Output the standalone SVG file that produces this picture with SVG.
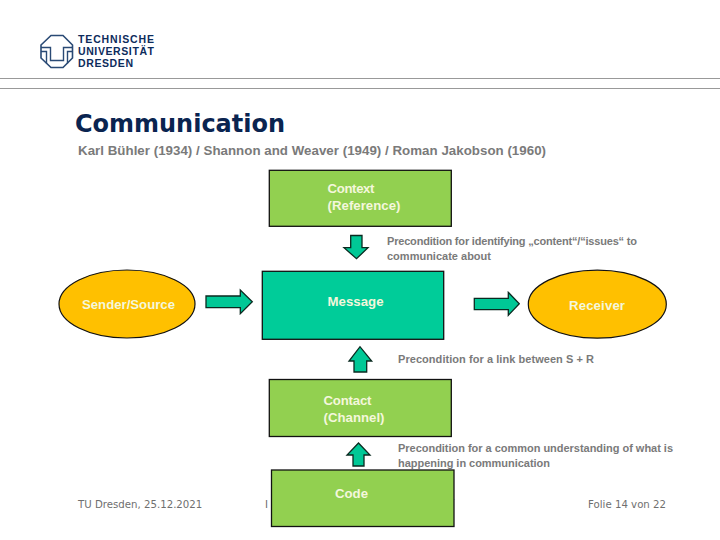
<svg xmlns="http://www.w3.org/2000/svg" width="720" height="540" viewBox="0 0 720 540">
<style>
text{font-family:"Liberation Sans",Arial,sans-serif}
.g{fill:#7a7a7a;font-size:11px;font-weight:bold}
.w{fill:#f4f7dc;font-size:13.2px;font-weight:bold}
.f{fill:#6f6f6f;font-size:10.2px;font-family:"DejaVu Sans",sans-serif}
.l{fill:#0d2c5c;font-size:10.5px;font-weight:bold}
.a{fill:#00c896;stroke:#0a2a20;stroke-width:1.3}
.b{fill:#92d050;stroke:#111;stroke-width:1.3}
.e{fill:#ffc000;stroke:#111;stroke-width:1.2}
.m{fill:none;stroke:#2a4a75}
</style>
<rect width="720" height="540" fill="#fff"/>
<g id="logo">
<path class="m" stroke-width="1.6" d="M51 35.5H63L72.5 45V58L63 67.5H51L41 58V45Z"/>
<path class="m" stroke-width="1.4" d="M41 47.5H50.5V60.5H63.5V47.5H72.5M41 51.5H46.5V63.5M72.5 51.5H67.5V63.5"/>
<text class="l" x="78" y="42.8" textLength="76">TECHNISCHE</text>
<text class="l" x="78" y="55" textLength="76">UNIVERSITÄT</text>
<text class="l" x="78" y="67.2" textLength="55">DRESDEN</text>
</g>
<path d="M0 78.5H720M0 88.5H720" stroke="#999" stroke-width="1"/>
<text x="75" y="132" font-size="24" font-weight="bold" fill="#0a2450" textLength="210" style="font-family:'DejaVu Sans',sans-serif">Communication</text>
<text class="g" x="78" y="155" style="font-size:13.3px" textLength="468">Karl Bühler (1934) / Shannon and Weaver (1949) / Roman Jakobson (1960)</text>
<g id="footer">
<text class="f" x="78" y="508">TU Dresden, 25.12.2021</text>
<text class="f" x="265" y="508">I</text>
<text class="f" x="451" y="502">-</text>
<text class="f" x="588" y="508">Folie 14 von 22</text>
</g>
<g id="connectors">
<path class="a" d="M350.7 235.5H362V247.7H368L356.5 258.7L344 247.7H350.7Z"/>
<path class="a" d="M206 296H240.3V290L252.3 301.8L240.3 313.7V307.7H206Z"/>
<path class="a" d="M474.3 298.3H508.3V292.3L519.3 303.8L508.3 315.3V309.7H474.3Z"/>
<path class="a" d="M354 372V361H349L360 346.7L371.7 361H366.7V372Z"/>
<path class="a" d="M353 466V455H347L358.5 443L370 455H364V466Z"/>
</g>
<g id="context"><rect class="b" x="269.3" y="170.3" width="182" height="56"/><text class="w" x="327.5" y="193" textLength="47">Context</text><text class="w" x="327.5" y="210" textLength="73">(Reference)</text></g>
<g id="sender"><ellipse class="e" cx="127" cy="304" rx="68" ry="34"/><text class="w" x="82" y="309" textLength="93">Sender/Source</text></g>
<g id="message"><rect class="b" style="fill:#00cc99" x="262.3" y="271.3" width="181.4" height="68"/><text class="w" x="327.5" y="306" textLength="56">Message</text></g>
<g id="receiver"><ellipse class="e" cx="597.3" cy="304.2" rx="69" ry="34"/><text class="w" x="569" y="310" textLength="56">Receiver</text></g>
<g id="contact"><rect class="b" x="269.3" y="379.5" width="182" height="57"/><text class="w" x="323.5" y="404.5" textLength="48">Contact</text><text class="w" x="323.5" y="421.5" textLength="61">(Channel)</text></g>
<g id="code"><rect class="b" x="271.5" y="470" width="182.5" height="56.5"/><text class="w" x="335" y="498" textLength="33">Code</text></g>
<g id="notes">
<text class="g" x="387" y="245" textLength="250">Precondition for identifying „content“/“issues“ to</text>
<text class="g" x="387" y="259.5" textLength="104">communicate about</text>
<text class="g" x="398" y="363" textLength="196">Precondition for a link between S + R</text>
<text class="g" x="398" y="452" textLength="275">Precondition for a common understanding of what is</text>
<text class="g" x="398" y="466.5" textLength="152">happening in communication</text>
</g>
</svg>
